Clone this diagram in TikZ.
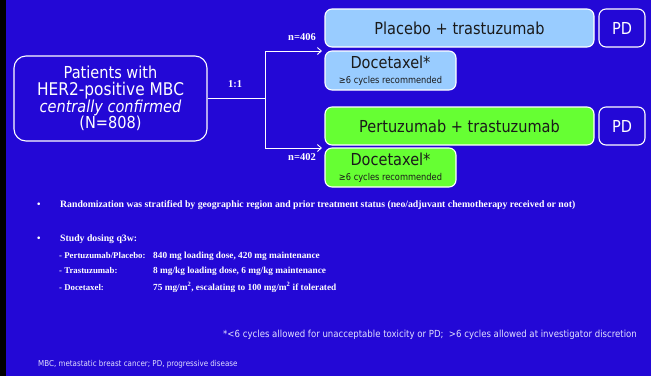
\documentclass[tikz,border=0pt]{standalone}
\usepackage{fontspec}
\usetikzlibrary{arrows.meta}
\newfontfamily\tah[FakeStretch=0.88]{DejaVu Sans}
\newfontfamily\ser{Liberation Serif}
\definecolor{bg}{HTML}{2308D6}
\definecolor{lblue}{HTML}{99CCFF}
\definecolor{lgreen}{HTML}{66FF33}
\definecolor{boxtext}{HTML}{1A1A1A}
\definecolor{foot}{HTML}{E2E0FF}
\tikzset{
  rbox/.style={draw=white, line width=1.1pt, rounded corners=7pt, inner sep=0pt, text=boxtext, align=center,
    font=\tah\fontsize{16.5}{18}\selectfont},
  pdbox/.style={rbox, fill=bg, text=white, minimum width=46pt, minimum height=38pt},
  conn/.style={draw=white, line width=0.9pt},
  arr/.style={conn, -{Straight Barb[length=4pt,width=7pt]}},
  lab/.style={text=white, font=\ser\bfseries\fontsize{10.5}{12}\selectfont, inner sep=0pt},
  btxt/.style={text=white, font=\ser\bfseries\fontsize{9.75}{11}\selectfont, inner sep=0pt, anchor=base west},
  stxt/.style={text=white, font=\ser\bfseries\fontsize{9.3}{10}\selectfont, inner sep=0pt, anchor=base west},
  slab/.style={stxt, font=\ser\bfseries\fontsize{8.8}{10}\selectfont},
  ftxt/.style={text=foot, font=\tah\fontsize{9.75}{11}\selectfont, inner sep=0pt, anchor=base west},
}
\begin{document}
\begin{tikzpicture}[x=1pt,y=-1pt]
\fill[bg] (0,0) rectangle (651,376);
\fill[black] (0,0) rectangle (6,376);
\useasboundingbox (0,0) rectangle (651,376);

% left box
\node[rbox, rounded corners=12pt, text=white, minimum width=193pt, minimum height=85pt,
  font=\tah\fontsize{16.5}{16.7}\selectfont] (pat) at (110.5,98.5)
  {Patients with\\{\fontsize{17.5}{16.7}\selectfont HER2-positive MBC}\\{\itshape centrally confirmed}\\(N=808)};

% arms
\node[rbox, fill=lblue, minimum width=269pt, minimum height=38pt] (plac) at (459.5,28) {Placebo + trastuzumab};
\node[pdbox] (pd1) at (622,28) {PD};
\node[rbox, fill=lblue, minimum width=131pt, minimum height=39pt] (doc1) at (390.5,70.5)
  {Docetaxel*\\[-3pt]{\fontsize{9.4}{10}\selectfont ≥6 cycles recommended}};
\node[rbox, fill=lgreen, minimum width=269pt, minimum height=38pt] (pert) at (459.5,126) {Pertuzumab + trastuzumab};
\node[pdbox] (pd2) at (622,126) {PD};
\node[rbox, fill=lgreen, minimum width=131pt, minimum height=39pt] (doc2) at (390.5,167.5)
  {Docetaxel*\\[-3pt]{\fontsize{9.4}{10}\selectfont ≥6 cycles recommended}};

% connectors
\coordinate (split) at (265,98.5);
\coordinate (top) at (265,51);
\coordinate (bot) at (265,148);
\coordinate (t1) at (322,51);
\coordinate (t2) at (322,148);
\draw[conn] (pat.east) -- (split);
\draw[conn] (top) -- (bot);
\draw[arr] (top) -- (t1);
\draw[arr] (bot) -- (t2);

\node[lab] (r11) at (235,84) {1:1};
\node[lab] (n406) at (302,37) {n=406};
\node[lab] (n402) at (302,157.5) {n=402};

% bullets
\node[btxt] (b1) at (37,207) {\textbullet};
\node[btxt] (l1) at (60,207) {Randomization was stratified by geographic region and prior treatment status (neo/adjuvant chemotherapy received or not)};
\node[btxt] (b2) at (37,241) {\textbullet};
\node[btxt] (l2) at (60,241) {Study dosing q3w:};
\node[slab] (s1) at (59,258.5) {- Pertuzumab/Placebo:};
\node[stxt] (v1) at (153,258.5) {840 mg loading dose, 420 mg maintenance};
\node[slab] (s2) at (59,273.5) {- Trastuzumab:};
\node[stxt] (v2) at (153,273.5) {8 mg/kg loading dose, 6 mg/kg maintenance};
\node[slab] (s3) at (59,290.5) {- Docetaxel:};
\node[stxt] (v3) at (153,290.5) {75 mg/m\textsuperscript{2}, escalating to 100 mg/m\textsuperscript{2} if tolerated};

% footnotes
\node[ftxt] (fn) at (223,337.5) {*<6 cycles allowed for unacceptable toxicity or PD;\ \ >6 cycles allowed at investigator discretion};
\node[ftxt, font=\tah\fontsize{8.1}{9}\selectfont] (abbr) at (38,366) {MBC, metastatic breast cancer; PD, progressive disease};
\end{tikzpicture}
\end{document}
